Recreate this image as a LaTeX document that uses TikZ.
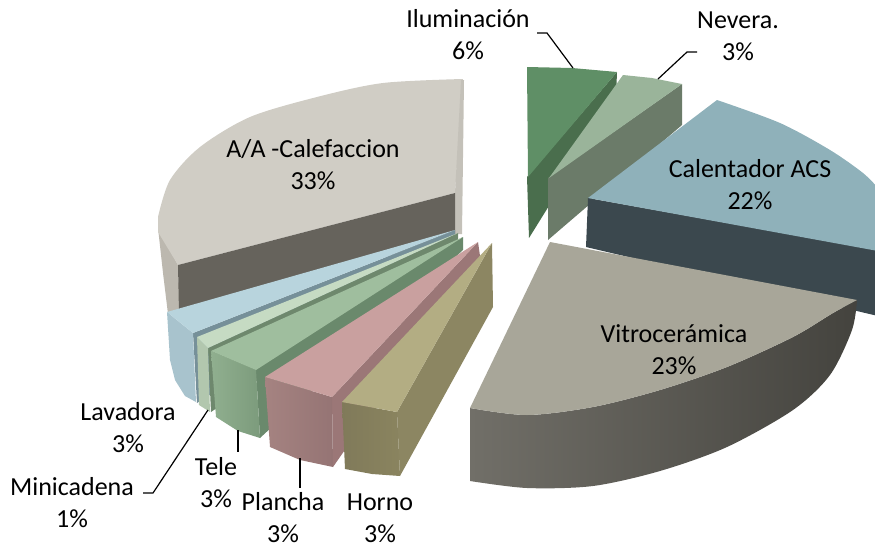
\documentclass[tikz,border=0pt]{standalone}
\usepackage{fontspec}
\setmainfont{Carlito}
\definecolor{ilumTop}{HTML}{5F8F66}
\definecolor{ilumSide}{HTML}{4A6E4D}
\definecolor{nevTop}{HTML}{9AB49A}
\definecolor{nevSide}{HTML}{6B7B69}
\definecolor{calTop}{HTML}{8FB1BA}
\definecolor{calSide}{HTML}{3B484E}
\definecolor{aaTop}{HTML}{D0CDC5}
\definecolor{aaWall}{HTML}{BCB8AF}
\definecolor{aaStrip}{HTML}{C4C1B9}
\definecolor{aaSide}{HTML}{66635C}
\definecolor{lavTop}{HTML}{B8D4DD}
\definecolor{lavWall}{HTML}{A8C3CD}
\definecolor{lavSide}{HTML}{769099}
\definecolor{minTop}{HTML}{C6DBC3}
\definecolor{minWall}{HTML}{B2C7AE}
\definecolor{minSide}{HTML}{6E886D}
\definecolor{teleTop}{HTML}{9FBE9E}
\definecolor{teleWallL}{HTML}{90AF8F}
\definecolor{teleWallR}{HTML}{7C9B7C}
\definecolor{teleSide}{HTML}{6A896C}
\definecolor{planTop}{HTML}{C9A09F}
\definecolor{planWallL}{HTML}{A58381}
\definecolor{planWallR}{HTML}{957474}
\definecolor{planSide}{HTML}{9B7777}
\definecolor{hornTop}{HTML}{B3AD83}
\definecolor{hornWallL}{HTML}{807A5A}
\definecolor{hornWallR}{HTML}{8A845F}
\definecolor{hornSide}{HTML}{8C8662}
\definecolor{vitTop}{HTML}{A8A699}
\definecolor{vitWallL}{HTML}{716F68}
\definecolor{vitWallR}{HTML}{44433E}
\tikzset{
  lbl/.style={font=\fontsize{26}{32}\selectfont, align=center, text=black, inner sep=0pt},
  leader/.style={draw=black, line width=1.2pt},
}
\begin{document}
\begin{tikzpicture}[x=1pt,y=-1pt]
\useasboundingbox (0,0) rectangle (875,549);
% ---------- Iluminacion ----------
\fill[ilumSide] (617,72) -- (616,98) -- (529,238) -- (527,177) -- cycle;
\fill[ilumTop] (527,67) -- (572,68) -- (617,72) -- (528,177) -- cycle;
% ---------- Nevera ----------
\fill[nevSide] (682,84) -- (682,125) -- (548,240) -- (548,178) -- cycle;
\fill[nevTop] (623,75) -- (652,78) -- (682,84) -- (549,178) -- cycle;
% ---------- Calentador ACS ----------
\fill[calSide] (588,198) -- (878,250) -- (878,316) -- (586,247) -- cycle;
\fill[calTop] (588,198) -- plot[smooth] coordinates {(717,100) (780,123) (830,150) (863,173) (878,188)} -- (878,251) -- cycle;
% ---------- Vitroceramica ----------
\shade[left color=vitWallL, right color=vitWallR] (470,408) -- plot[smooth] coordinates {(470,408) (527,415) (593,407) (660,390) (727,367) (793,337) (833,313) (857,300)}
  -- plot[smooth] coordinates {(857,300) (852,330) (830,375) (793,410) (727,447) (660,471) (593,486) (527,488) (470,481)} -- cycle;
\fill[vitTop] (550,242) -- (470,408) -- plot[smooth] coordinates {(470,408) (527,415) (593,407) (660,390) (727,367) (793,337) (833,313) (857,300)} -- cycle;
% ---------- A/A Calefaccion ----------
\fill[aaWall] (158,228) -- (178,265) -- (180,312) -- (168,314) -- (163,273) -- cycle;
\fill[aaTop] (455,193) -- (463,79) -- plot[smooth] coordinates {(463,79) (383,83) (317,97) (250,117) (200,147) (170,180) (158,217)} -- (158,232) -- (178,265) -- cycle;
\fill[aaStrip] (455,193) -- (461,80) -- (464,80) -- (462,234) -- (455,234) -- cycle;
\fill[aaSide] (178,265) -- (455,193) -- (455,238) -- (179,313) -- cycle;
% ---------- Lavadora ----------
\fill[lavSide] (193,333) -- (455,230) -- (455,242) -- (197,403) -- cycle;
\fill[lavWall] (167,312) -- (193,333) -- (196,402) -- (185,396) -- (175,380) -- (170,360) -- cycle;
\fill[lavTop] (455,230) -- (167,312) -- (193,333) -- cycle;
% ---------- Minicadena ----------
\fill[minSide] (208,348) -- (458,233) -- (458,245) -- (211,412) -- cycle;
\fill[minWall] (197,337) -- (208,348) -- (210,412) -- (199,405) -- cycle;
\fill[minTop] (458,233) -- (197,337) -- (208,348) -- cycle;
% ---------- Tele ----------
\fill[teleSide] (256,370) -- (463,237) -- (463,250) -- (260,438) -- cycle;
\shade[left color=teleWallL, right color=teleWallR] (211,351) -- (256,370) -- (260,438) -- (238,431) -- (216,417) -- cycle;
\fill[teleTop] (463,237) -- (211,351) -- (256,370) -- cycle;
% ---------- Plancha ----------
\fill[planSide] (332,397) -- (478,242) -- (480,256) -- (333,467) -- cycle;
\shade[left color=planWallL, right color=planWallR] (265,377) -- (332,397) -- (333,467) -- (300,460) -- (270,447) -- cycle;
\fill[planTop] (478,242) -- (265,377) -- (332,397) -- cycle;
% ---------- Horno ----------
\fill[hornSide] (397,412) -- (492,243) -- (493,307) -- (400,476) -- cycle;
\shade[left color=hornWallL, right color=hornWallR] (342,402) -- (397,412) -- (400,476) -- (372,474) -- (345,469) -- cycle;
\fill[hornTop] (492,243) -- (342,402) -- (397,412) -- cycle;
% ---------- Labels ----------
\node[lbl] (tIlum) at (468,35) {Iluminación\\6\%};
\node[lbl] (tNev) at (738,36) {Nevera.\\3\%};
\node[lbl] (tCal) at (750,185) {Calentador ACS\\22\%};
\node[lbl] (tVit) at (674,350) {Vitrocerámica\\23\%};
\node[lbl] (tAA) at (313,165) {A/A -Calefaccion\\33\%};
\node[lbl] (tLav) at (128,428) {Lavadora\\3\%};
\node[lbl] (tMin) at (72,503) {Minicadena\\1\%};
\node[lbl] (tTele) at (216,483) {Tele\\3\%};
\node[lbl] (tPlan) at (283,518) {Plancha\\3\%};
\node[lbl] (tHorn) at (380,518) {Horno\\3\%};
% ---------- Leader lines ----------
\coordinate (cIlumA) at (537,33);
\coordinate (cIlumB) at (547,33);
\coordinate (cIlumC) at (573,68);
\coordinate (cNevA) at (697,52);
\coordinate (cNevB) at (687,52);
\coordinate (cNevC) at (658,79);
\coordinate (cMinA) at (143,493);
\coordinate (cMinB) at (153,493);
\coordinate (cMinC) at (208,410);
\coordinate (cTeleA) at (238,430);
\coordinate (cTeleB) at (238,452);
\coordinate (cPlanA) at (300,458);
\coordinate (cPlanB) at (300,488);
\draw[leader] (cIlumA) -- (cIlumB) -- (cIlumC);
\draw[leader] (cNevA) -- (cNevB) -- (cNevC);
\draw[leader] (cMinA) -- (cMinB) -- (cMinC);
\draw[leader, line width=1.6pt] (cTeleA) -- (cTeleB);
\draw[leader, line width=2pt] (cPlanA) -- (cPlanB);
\end{tikzpicture}
\end{document}
